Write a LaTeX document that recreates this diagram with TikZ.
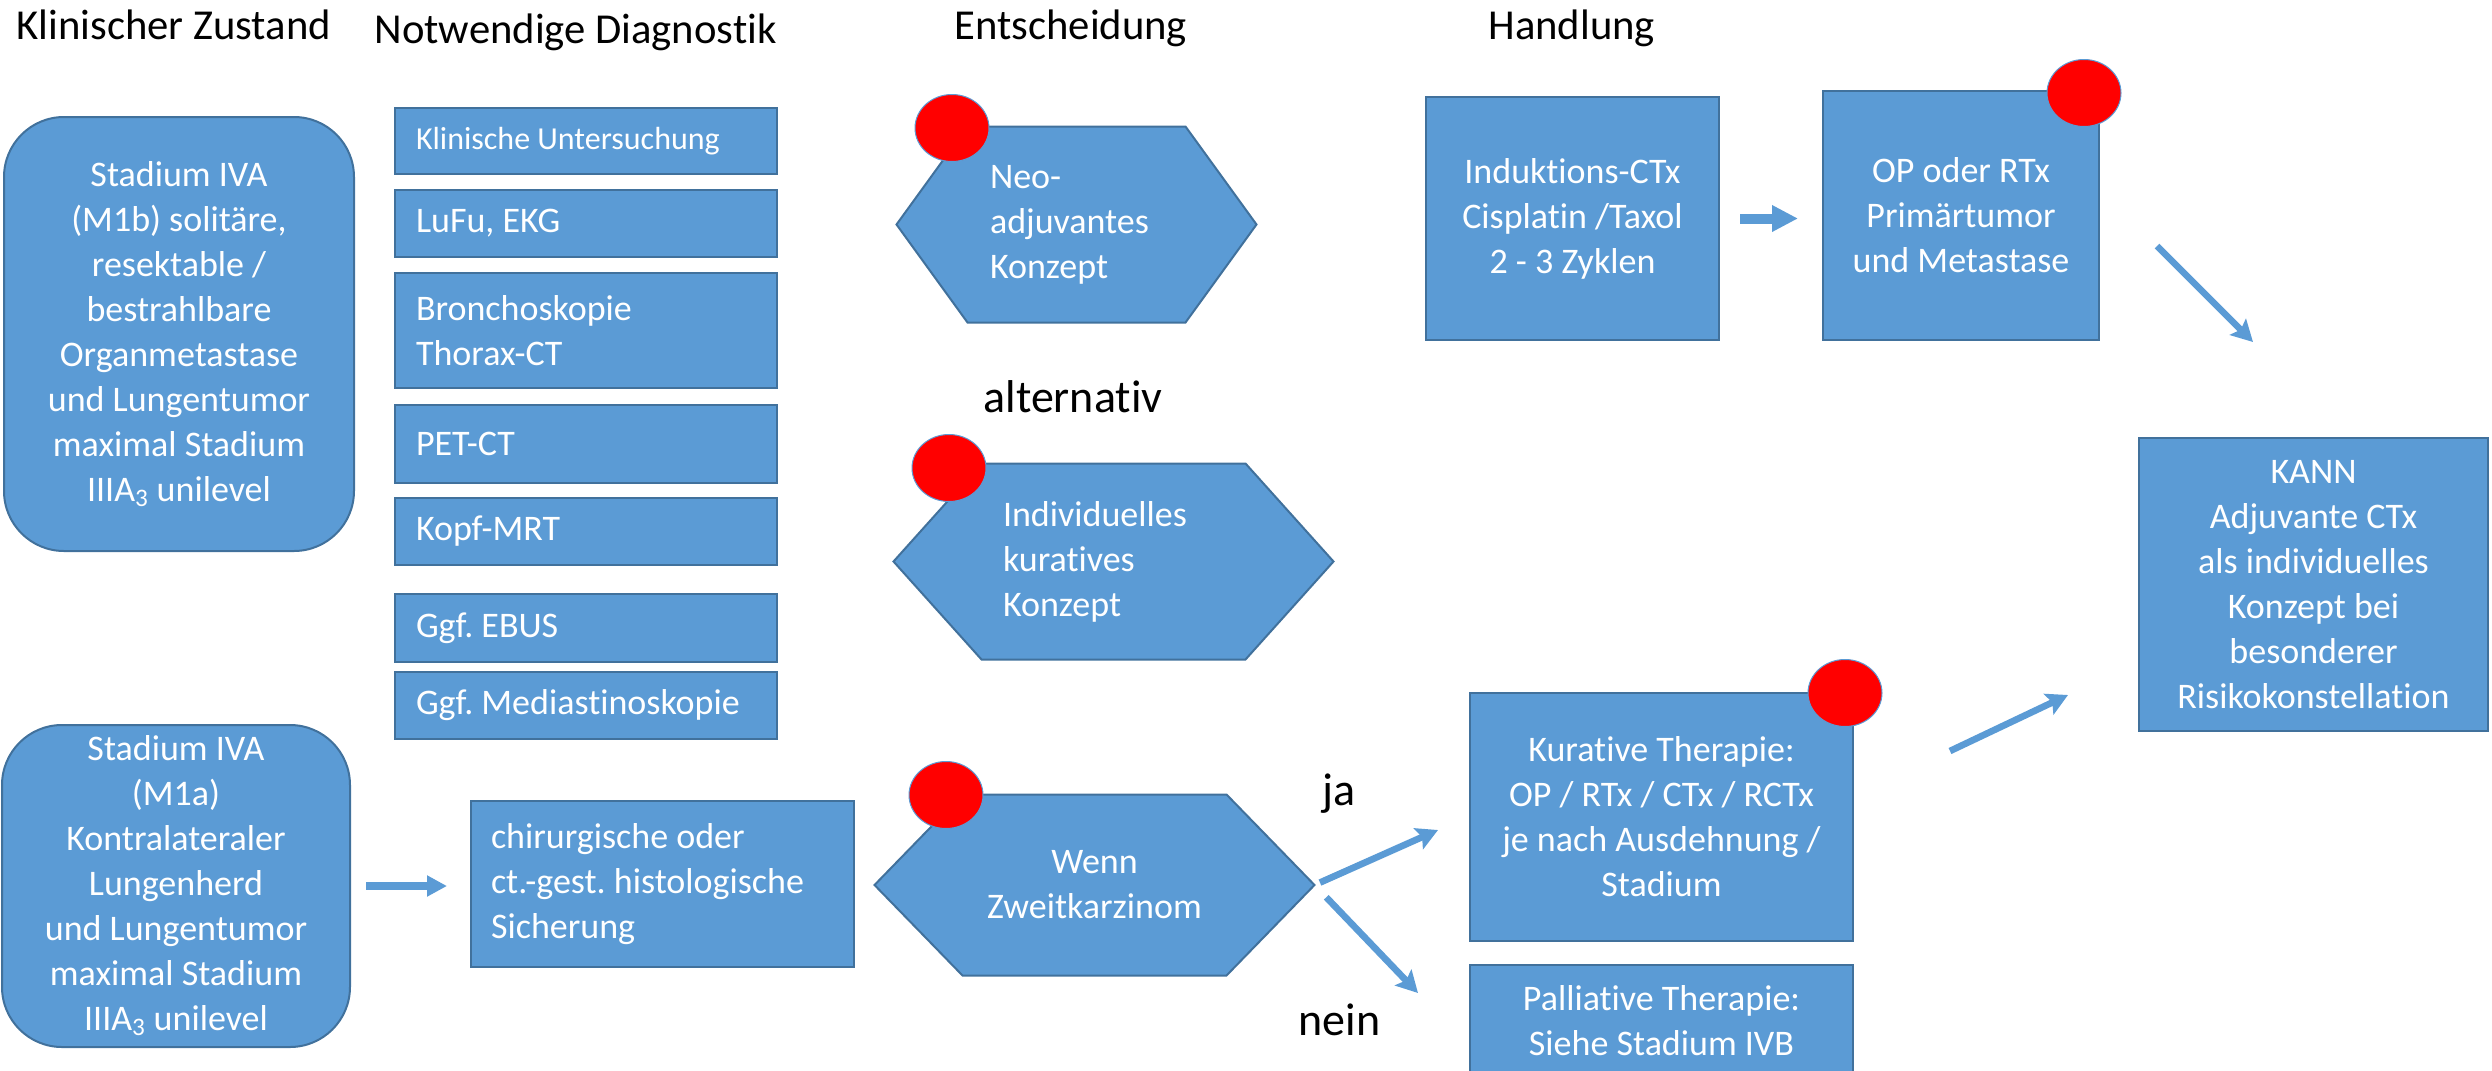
\documentclass[tikz,border=0pt]{standalone}
\usepackage{fontspec}
\setmainfont{Carlito}[Ligatures=NoCommon]
\usetikzlibrary{arrows.meta,shapes.geometric,backgrounds}

\definecolor{boxfill}{HTML}{5B9BD5}
\definecolor{boxedge}{HTML}{41719C}

\tikzset{every picture/.style={line width=0.75pt}}
\tikzset{
  boxtext/.style={font=\fontsize{27}{33.75}\selectfont\frenchspacing},
  bluebox/.style={draw=boxedge, fill=boxfill, line width=1.5pt, text=white, boxtext, align=center, inner sep=0pt},
  roundbox/.style={bluebox, rounded corners=45pt},
  listbox/.style={bluebox, align=flush left, inner xsep=15.75pt, inner ysep=0pt, text width=255pt},
  hexbox/.style={text=white, boxtext, inner sep=0pt},
  hexshape/.style={draw=boxedge, fill=boxfill, line width=1.5pt},
  reddot/.style={ellipse, draw=boxfill, fill=red, line width=0.75pt, inner sep=0pt, minimum width=55.5pt, minimum height=50.25pt},
  heading/.style={anchor=base west, inner sep=0pt, font=\fontsize{32}{38}\selectfont},
  branchtext/.style={anchor=base west, inner sep=0pt, font=\fontsize{34.5}{41}\selectfont},
  linkarrow/.style={draw=boxfill, line width=5pt, -{Stealth[length=16pt, width=17pt, inset=3pt]}},
  blockarrow/.style={draw=boxfill}
}

\begin{document}
\begin{tikzpicture}[x=0.75pt,y=0.75pt,yscale=-1,xscale=1]
        \useasboundingbox (0,0) rectangle (2492,1071);
        \clip (0,0) rectangle (2492,1071);

        % Column headings
        \node[heading] (hzustand) at (16,39) {Klinischer Zustand};
        \node[heading] (hdiagnostik) at (374,43) {Notwendige Diagnostik};
        \node[heading] (hentscheidung) at (954,39) {Entscheidung};
        \node[heading] (hhandlung) at (1488,39) {Handlung};

        % Clinical states
        \node[roundbox, minimum width=262.5pt, minimum height=325.5pt] (stadiumA) at (179,334)
            {Stadium IVA\\(M1b) solitäre,\\resektable /\\bestrahlbare\\Organmetastase\\und Lungentumor\\maximal Stadium\\IIIA\textsubscript{3} unilevel};
        \node[roundbox, minimum width=261pt, minimum height=241.5pt] (stadiumB) at (176,886)
            {Stadium IVA\\(M1a)\\Kontralateraler\\Lungenherd\\und Lungentumor\\maximal Stadium\\IIIA\textsubscript{3} unilevel};

        % Diagnostics
        \node[listbox, minimum height=49.5pt, font=\fontsize{24}{29}\selectfont] (untersuchung) at (586,141) {Klinische Untersuchung};
        \node[listbox, minimum height=50.25pt] (lufu) at (586,223.5) {LuFu, EKG};
        \node[listbox, minimum height=86.25pt] (broncho) at (586,330.5) {Bronchoskopie\\Thorax-CT};
        \node[listbox, minimum height=58.5pt] (petct) at (586,444) {PET-CT};
        \node[listbox, minimum height=50.25pt] (kopfmrt) at (586,531.5) {Kopf-MRT};
        \node[listbox, minimum height=51pt] (ebus) at (586,628) {Ggf. EBUS};
        \node[listbox, minimum height=50.25pt] (mediastino) at (586,705.5) {Ggf. Mediastinoskopie};

        \node[listbox, inner xsep=15pt, text width=257.25pt, minimum height=124.5pt] (sicherung) at (662.5,884)
            {chirurgische oder\\ct.-gest. histologische\\Sicherung};

        % Decisions
        \node[hexbox, align=flush left, inner xsep=69.75pt, text width=129.75pt, minimum height=146.25pt] (neo) at (1076.5,224.5)
            {Neo-\\adjuvantes\\Konzept};
        \node[hexbox, align=flush left, inner xsep=81.75pt, text width=165.75pt, minimum height=146.25pt] (indiv) at (1113.5,561.5)
            {Individuelles\\kuratives\\Konzept};
        \node[hexbox, align=center, minimum width=329.25pt, minimum height=135pt] (wenn) at (1094.5,885)
            {Wenn\\Zweitkarzinom};
        \begin{scope}[on background layer]
            \foreach \hex/\cut in {neo/53.25pt, indiv/66pt, wenn/66pt}
                \draw[hexshape] (\hex.west) -- ([xshift=\cut]\hex.north west) -- ([xshift=-\cut]\hex.north east)
                    -- (\hex.east) -- ([xshift=-\cut]\hex.south east) -- ([xshift=\cut]\hex.south west) -- cycle;
        \end{scope}

        \node[branchtext] (alternativ) at (983,412) {alternativ};
        \node[branchtext] (ja) at (1322,805) {ja};
        \node[branchtext] (nein) at (1298,1035) {nein};

        % Actions
        \node[bluebox, minimum width=219.75pt, minimum height=182.25pt] (induktion) at (1572.5,218.5)
            {Induktions-CTx\\Cisplatin /Taxol\\2 - 3 Zyklen};
        \node[bluebox, minimum width=207pt, minimum height=186.75pt] (op) at (1961,215.5)
            {OP oder RTx\\Primärtumor\\und Metastase};
        \node[bluebox, minimum width=287.25pt, minimum height=186pt] (kurativ) at (1661.5,817)
            {Kurative Therapie:\\OP / RTx / CTx / RCTx\\je nach Ausdehnung /\\Stadium};
        \node[bluebox, minimum width=287.25pt, minimum height=84pt] (palliativ) at (1661.5,1021)
            {Palliative Therapie:\\Siehe Stadium IVB};
        \node[bluebox, minimum width=261.75pt, minimum height=219.75pt] (kann) at (2313.5,584.5)
            {KANN\\Adjuvante CTx\\als individuelles\\Konzept bei\\besonderer\\Risikokonstellation};

        % Red markers
        \node[reddot] (dotneo) at (952,128) {};
        \node[reddot] (dotindiv) at (949,468) {};
        \node[reddot] (dotwenn) at (946,795) {};
        \node[reddot] (dotop) at (2084,93) {};
        \node[reddot] (dotkurativ) at (1845,693) {};

        % Arrows
        \coordinate (jaTip) at (1438,830);
        \coordinate (neinTip) at (1418,993);
        \coordinate (opOut) at (2157,246);
        \coordinate (opTip) at (2253,342);
        \coordinate (kurOut) at (1950,751);
        \coordinate (kurTip) at (2068,695);

        \draw[blockarrow, line width=6pt, -{Triangle[length=15pt, width=15pt]}, shorten <=11.25pt, shorten >=17.25pt]
            (stadiumB.east) -- (stadiumB.east -| sicherung.west);
        \draw[blockarrow, line width=7.5pt, -{Triangle[length=19.5pt, width=18.75pt]}, shorten <=15pt, shorten >=18pt]
            (induktion.east) -- (induktion.east -| op.west);
        \draw[linkarrow, shorten <=4.5pt] (wenn.east) -- (jaTip);
        \draw[linkarrow, shorten <=12.75pt] (wenn.east) -- (neinTip);
        \draw[linkarrow] (opOut) -- (opTip);
        \draw[linkarrow] (kurOut) -- (kurTip);

\end{tikzpicture}
\end{document}
